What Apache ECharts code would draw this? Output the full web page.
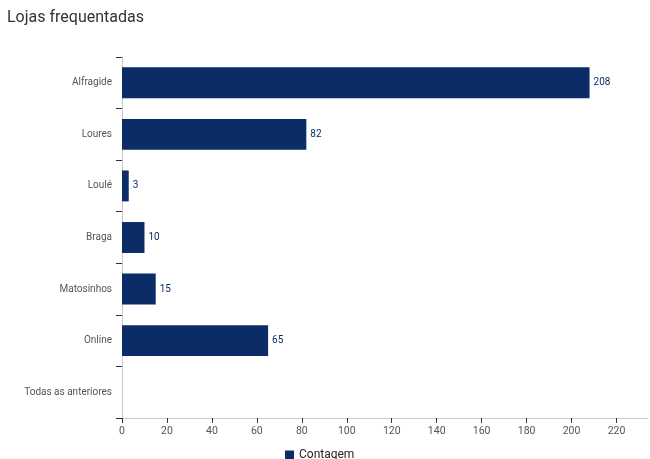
<!DOCTYPE html>
<html>
<head>
<meta charset="utf-8">
<script src="https://cdn.jsdelivr.net/npm/echarts@6/dist/echarts.min.js"></script>
<style>
  html, body { margin: 0; padding: 0; background: #fff; }
  #chart { width: 650px; height: 459px; }
</style>
</head>
<body>
<div id="chart"></div>
<script>
// Stores visited, top to bottom
const categories = ['Alfragide', 'Loures', 'Loulé', 'Braga', 'Matosinhos', 'Online', 'Todas as anteriores'];
const counts = [208, 82, 3, 10, 15, 65, null];
const seriesName = 'Contagem';
const titleText = 'Lojas frequentadas';

const barColor = '#0b2c66';
const font = 'Roboto, "Noto Sans", sans-serif';

const chart = echarts.init(document.getElementById('chart'), null, { renderer: 'canvas' });
chart.setOption({
  animation: false,
  title: {
    text: titleText,
    left: 2,
    top: 5,
    textStyle: { fontFamily: font, fontSize: 16, fontWeight: 'normal', color: '#333' }
  },
  legend: {
    data: [seriesName],
    top: 444,
    left: 280,
    itemWidth: 9,
    itemHeight: 9,
    itemGap: 6,
    icon: 'rect',
    textStyle: { fontFamily: font, fontSize: 12, color: '#222' }
  },
  grid: { left: 122, right: 2, top: 57, bottom: 41, containLabel: false },
  xAxis: {
    type: 'value',
    min: 0,
    max: 234,
    interval: 20,
    splitLine: { show: false },
    axisLine: { show: true, lineStyle: { color: '#c8c8c8' } },
    axisTick: { show: true, length: 5, lineStyle: { color: '#333' } },
    axisLabel: { showMaxLabel: false, fontFamily: font, fontSize: 10.5, color: '#555', margin: 8 }
  },
  yAxis: {
    type: 'category',
    inverse: true,
    data: categories,
    axisLine: { show: true, lineStyle: { color: '#c8c8c8' } },
    axisTick: { show: true, length: 6, lineStyle: { color: '#333' } },
    axisLabel: { fontFamily: font, fontSize: 10, color: '#555', margin: 10 }
  },
  series: [{
    name: seriesName,
    type: 'bar',
    data: counts,
    barWidth: '60%',
    itemStyle: { color: barColor },
    label: {
      show: true,
      position: 'right',
      distance: 4,
      fontFamily: font,
      fontSize: 10,
      color: barColor
    }
  }]
});
</script>
</body>
</html>
